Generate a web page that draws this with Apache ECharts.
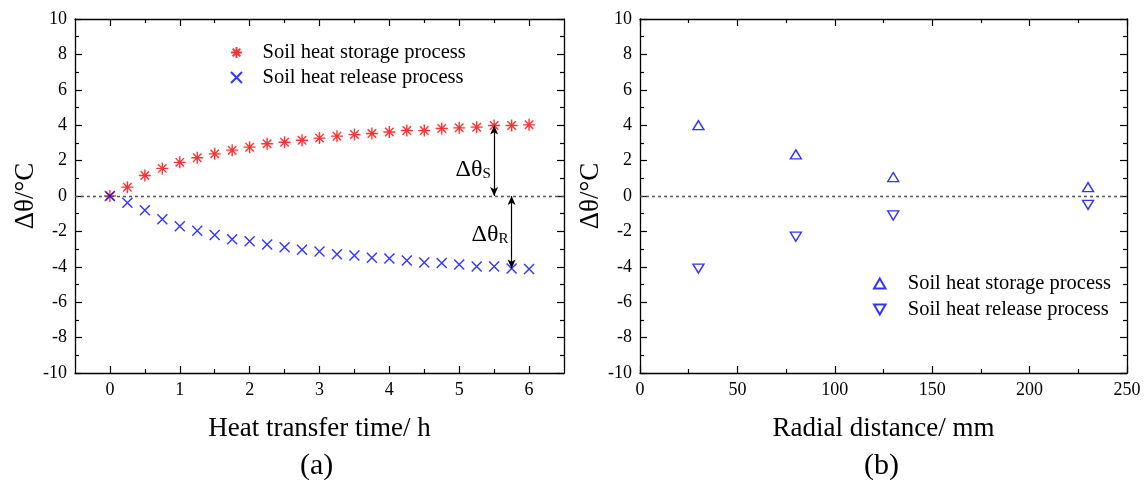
<!DOCTYPE html>
<html>
<head>
<meta charset="utf-8">
<script src="https://cdn.jsdelivr.net/npm/echarts@6/dist/echarts.min.js"></script>
<style>
  html, body { margin: 0; padding: 0; background: #fff; }
  #chart { width: 1145px; height: 482px; }
</style>
</head>
<body>
<div id="chart"></div>
<script>
// (a) temperature difference vs heat transfer time
const timeH = [0, 0.25, 0.5, 0.75, 1, 1.25, 1.5, 1.75, 2, 2.25, 2.5, 2.75, 3, 3.25, 3.5, 3.75, 4, 4.25, 4.5, 4.75, 5, 5.25, 5.5, 5.75, 6];
const storage = [0, 0.5, 1.16, 1.56, 1.9, 2.16, 2.38, 2.59, 2.76, 2.95, 3.04, 3.15, 3.27, 3.38, 3.47, 3.53, 3.62, 3.7, 3.7, 3.81, 3.85, 3.89, 3.98, 3.98, 4.02];
const release = [0, -0.38, -0.81, -1.31, -1.71, -1.97, -2.2, -2.44, -2.55, -2.74, -2.89, -3.04, -3.14, -3.29, -3.36, -3.49, -3.53, -3.64, -3.76, -3.78, -3.87, -3.98, -3.98, -4.09, -4.13];

// (b) temperature difference vs radial distance
const radial = [30, 80, 130, 230];
const radialStorage = [4.0, 2.35, 1.07, 0.5];
const radialRelease = [-4.1, -2.3, -1.1, -0.5];

// tick labels
const hourTicks = [0, 1, 2, 3, 4, 5, 6];
const hourMinor = [0.5, 1.5, 2.5, 3.5, 4.5, 5.5];

const FONT = "'Times New Roman', 'Liberation Serif', serif";
const RED = '#ff0000';
const BLUE = '#0000ff';

const pair = (xs, ys) => xs.map((x, i) => [x, ys[i]]);

const axisLine = { show: true, onZero: false, lineStyle: { color: '#000', width: 1.3 } };
const noLine = { show: false, onZero: false };
const tickMajor = { show: true, inside: true, length: 7, lineStyle: { color: '#000', width: 1.2 } };
const tickMinor = { show: true, length: 4, lineStyle: { color: '#000', width: 1.2 } };
const label = { fontFamily: FONT, fontSize: 18, color: '#000', margin: 8 };

function yAxes(grid) {
  return [
    {
      type: 'value', gridIndex: grid, position: 'left', min: -10, max: 10, interval: 2,
      axisLine, axisTick: tickMajor, minorTick: { ...tickMinor, splitNumber: 2 },
      splitLine: { show: false }, axisLabel: label,
      name: 'Δθ/°C', nameLocation: 'middle', nameGap: 31,
      nameTextStyle: { fontFamily: FONT, fontSize: 27, color: '#000' }
    },
    {
      type: 'value', gridIndex: grid, position: 'right', min: -10, max: 10, interval: 2,
      axisLine, axisTick: tickMajor, minorTick: { ...tickMinor, splitNumber: 2 },
      splitLine: { show: false }, axisLabel: { show: false }
    }
  ];
}

const xName = { fontFamily: FONT, fontSize: 27, color: '#000' };

const xAxis = [
  // left grid, bottom (major + labels)
  {
    type: 'value', gridIndex: 0, position: 'bottom', min: -0.5, max: 6.5,
    axisLine, splitLine: { show: false },
    axisTick: { ...tickMajor, customValues: hourTicks },
    axisLabel: { ...label, customValues: hourTicks },
    name: 'Heat transfer time/ h', nameLocation: 'middle', nameGap: 42, nameTextStyle: xName
  },
  // left grid, bottom minor
  {
    type: 'value', gridIndex: 0, position: 'bottom', min: -0.5, max: 6.5,
    axisLine: noLine, splitLine: { show: false },
    axisTick: { ...tickMinor, inside: true, customValues: hourMinor },
    axisLabel: { show: false, customValues: hourMinor }
  },
  // left grid, top major
  {
    type: 'value', gridIndex: 0, position: 'top', min: -0.5, max: 6.5,
    axisLine, splitLine: { show: false },
    axisTick: { ...tickMajor, customValues: hourTicks },
    axisLabel: { show: false, customValues: hourTicks }
  },
  // left grid, top minor
  {
    type: 'value', gridIndex: 0, position: 'top', min: -0.5, max: 6.5,
    axisLine: noLine, splitLine: { show: false },
    axisTick: { ...tickMinor, inside: true, customValues: hourMinor },
    axisLabel: { show: false, customValues: hourMinor }
  },
  // right grid, bottom
  {
    type: 'value', gridIndex: 1, position: 'bottom', min: 0, max: 250, interval: 50,
    axisLine, splitLine: { show: false }, axisTick: tickMajor,
    minorTick: { ...tickMinor, splitNumber: 2 }, axisLabel: label,
    name: 'Radial distance/ mm', nameLocation: 'middle', nameGap: 42, nameTextStyle: xName
  },
  // right grid, top
  {
    type: 'value', gridIndex: 1, position: 'top', min: 0, max: 250, interval: 50,
    axisLine, splitLine: { show: false }, axisTick: tickMajor,
    minorTick: { ...tickMinor, splitNumber: 2 }, axisLabel: { show: false }
  }
];

const zeroLine = {
  silent: true, symbol: 'none', label: { show: false },
  lineStyle: { color: '#555', type: [3, 3], width: 1.3 },
  data: [{ yAxis: 0 }]
};

const asterisk = 'path://M0,-10L0,10M-10,0L10,0M-7.07,-7.07L7.07,7.07M-7.07,7.07L7.07,-7.07';
const cross = 'path://M-10,-10L10,10M-10,10L10,-10';
const triUp = 'path://M0,-8.66L10,8.66L-10,8.66Z';
const triDown = 'path://M0,8.66L10,-8.66L-10,-8.66Z';

const iS = timeH.indexOf(5.5);
const iR = timeH.indexOf(5.75);

const legendText = { fontFamily: FONT, fontSize: 20.5, color: '#000' };

const option = {
  animation: false,
  backgroundColor: '#fff',
  textStyle: { fontFamily: FONT },
  grid: [
    { left: 75, right: 581, top: 19, bottom: 109 },
    { left: 640, right: 18, top: 19, bottom: 109 }
  ],
  xAxis,
  yAxis: [...yAxes(0), ...yAxes(1)],
  legend: [
    {
      orient: 'vertical', left: 225, top: 37, itemWidth: 30, itemHeight: 11, itemGap: 4,
      textStyle: { ...legendText, padding: [0, 0, 0, 6] },
      data: ['Soil heat storage process', 'Soil heat release process']
    },
    {
      orient: 'vertical', left: 868, top: 268, itemWidth: 30, itemHeight: 10, itemGap: 5,
      textStyle: { ...legendText, padding: [0, 0, 0, 8] },
      data: ['Soil heat storage process ', 'Soil heat release process ']
    }
  ],
  series: [
    {
      name: 'Soil heat storage process', type: 'scatter', xAxisIndex: 0, yAxisIndex: 0,
      data: pair(timeH, storage), symbol: asterisk, symbolSize: 12,
      itemStyle: { color: 'rgba(0,0,0,0)', borderColor: RED, borderWidth: 1.4 },
      markLine: {
        silent: true, symbol: ['arrow', 'arrow'], symbolSize: [6, 9], label: { show: false },
        lineStyle: { color: '#000', type: 'solid', width: 1.2 },
        data: [
          [{ coord: [timeH[iS], storage[iS]] }, { coord: [timeH[iS], 0] }],
          [{ coord: [timeH[iR], 0] }, { coord: [timeH[iR], release[iR]] }]
        ]
      }
    },
    {
      name: 'Soil heat release process', type: 'scatter', xAxisIndex: 0, yAxisIndex: 0,
      data: pair(timeH, release), symbol: cross, symbolSize: 10,
      itemStyle: { color: 'rgba(0,0,0,0)', borderColor: BLUE, borderWidth: 1.4 },
      markLine: zeroLine
    },
    {
      name: 'Soil heat storage process ', type: 'scatter', xAxisIndex: 4, yAxisIndex: 2,
      data: pair(radial, radialStorage), symbol: triUp, symbolSize: [11, 9],
      itemStyle: { color: 'rgba(0,0,0,0)', borderColor: BLUE, borderWidth: 1.4 },
      markLine: zeroLine
    },
    {
      name: 'Soil heat release process ', type: 'scatter', xAxisIndex: 4, yAxisIndex: 2,
      data: pair(radial, radialRelease), symbol: triDown, symbolSize: [11, 9],
      itemStyle: { color: 'rgba(0,0,0,0)', borderColor: BLUE, borderWidth: 1.4 }
    }
  ]
};

const chart = echarts.init(document.getElementById('chart'));
chart.setOption(option);

// annotations placed in data coordinates of panel (a)
const rich = {
  a: { fontFamily: FONT, fontSize: 24, color: '#000' },
  s: { fontFamily: FONT, fontSize: 15, color: '#000', verticalAlign: 'bottom', padding: [8, 0, 0, 0] }
};
const pS = chart.convertToPixel({ gridIndex: 0 }, [5.2, 1.5]);
const pR = chart.convertToPixel({ gridIndex: 0 }, [5.44, -2.2]);
chart.setOption({
  graphic: [
    { type: 'text', x: pS[0], y: pS[1], style: { text: '{a|Δθ}{s|S}', rich, align: 'center', verticalAlign: 'middle' } },
    { type: 'text', x: pR[0], y: pR[1], style: { text: '{a|Δθ}{s|R}', rich, align: 'center', verticalAlign: 'middle' } },
    { type: 'text', left: 300, top: 451, style: { text: '(a)', font: '30px ' + FONT, fill: '#000' } },
    { type: 'text', left: 864, top: 451, style: { text: '(b)', font: '30px ' + FONT, fill: '#000' } }
  ]
});
</script>
</body>
</html>
